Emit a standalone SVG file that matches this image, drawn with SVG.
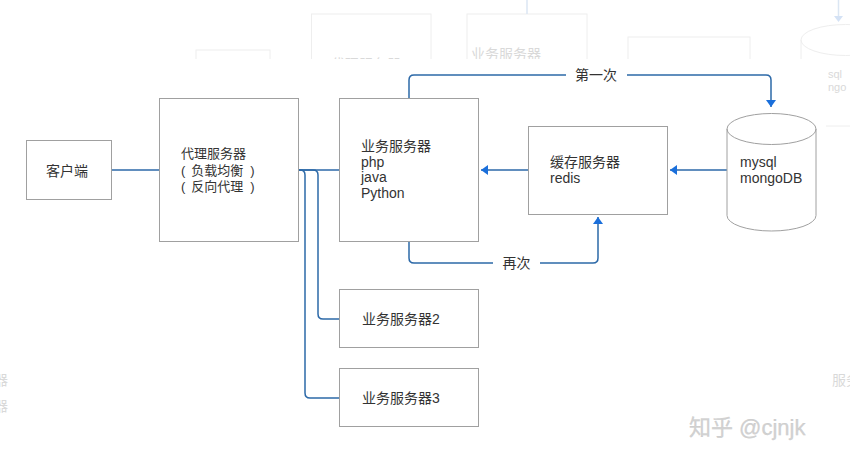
<svg xmlns="http://www.w3.org/2000/svg" width="850" height="466" viewBox="0 0 850 466">
<style>
text { font-family: "Liberation Sans", "Noto Sans CJK SC", sans-serif; font-size: 14px; fill: #333333; }
.box { fill: #ffffff; stroke: #a0a0a0; stroke-width: 1; }
.conn { fill: none; stroke: #2c69a8; stroke-width: 1.5; }
.ghost-box { fill: none; stroke: #eeeeee; stroke-width: 1; }
.ghost-text { fill: #d9d9d9; }
.ghost-small { font-size: 11px; }
.ghost-line { fill: none; stroke: #dbe6f3; stroke-width: 1.5; }
.lbl-bg { fill: #ffffff; }
.px { font-size: 13px; }
.wm { font-size: 22px; fill: #d2d2d2; stroke: #c4c4c4; stroke-width: 0.25; }
</style>
<defs>
<marker id="arr" markerUnits="userSpaceOnUse" markerWidth="10" markerHeight="12" refX="7" refY="5" orient="auto">
<path d="M0,0 L7,5 L0,10 z" fill="#1a6fdb"/>
</marker>
</defs>
<rect x="0" y="0" width="850" height="466" fill="#ffffff"/>
<g id="ghost">
<rect class="ghost-box" x="196" y="50" width="74" height="20"/>
<rect class="ghost-box" x="311.5" y="14" width="119.5" height="50"/>
<text class="ghost-text" x="331" y="69">代理服务器</text>
<rect class="ghost-box" x="467" y="14" width="120" height="50"/>
<text class="ghost-text" x="471" y="59">业务服务器</text>
<path class="ghost-line" d="M527,0 V14"/>
<rect class="ghost-box" x="628" y="37" width="122" height="30"/>
<path class="ghost-line" d="M838.5,0 V16"/>
<path d="M834,16 L843,16 L838.5,22 z" fill="#d4e2f5"/>
<path class="ghost-box" d="M801,40 A44.5,15.5 0 0 1 890,40 M801,40 A44.5,15.5 0 0 0 890,40 M801,40 V140"/>
<path class="ghost-box" d="M826,126 H850"/>
</g>
<rect x="9" y="59" width="817" height="407" fill="#ffffff"/>
<g id="ghost-text">
<text class="ghost-text ghost-small" x="828" y="78">sql</text>
<text class="ghost-text ghost-small" x="828" y="91">ngo</text>
<text class="ghost-text" x="-6" y="385">器</text>
<text class="ghost-text" x="-6" y="411">器</text>
<text class="ghost-text" x="832" y="385">服务</text>
</g>
<g id="connectors">
<path class="conn" d="M111,170 H159"/>
<path class="conn" d="M298,170 H339"/>
<path class="conn" d="M298,170 H300 Q305,170 305,175 V393 Q305,398 310,398 H339"/>
<path class="conn" d="M298,170 H313 Q318,170 318,175 V314 Q318,319 323,319 H339"/>
<path class="conn" d="M528,170 H481" marker-end="url(#arr)"/>
<path class="conn" d="M727,170 H670" marker-end="url(#arr)"/>
<path class="conn" d="M409,98 V80 Q409,75 414,75 H766 Q771,75 771,80 V107" marker-end="url(#arr)"/>
<path class="conn" d="M409,241 V258 Q409,263 414,263 H593 Q598,263 598,258 V217" marker-end="url(#arr)"/>
<rect class="lbl-bg" x="566" y="66" width="61" height="18"/>
<text x="596" y="80" text-anchor="middle">第一次</text>
<rect class="lbl-bg" x="493" y="254" width="47" height="18"/>
<text x="516.5" y="268" text-anchor="middle">再次</text>
</g>
<g id="client">
<rect class="box" x="26.5" y="140.5" width="85" height="59"/>
<text x="46" y="176">客户端</text>
</g>
<g id="proxy">
<rect class="box" x="159.5" y="98.5" width="139" height="143"/>
<text class="px" x="181" y="158">代理服务器</text>
<text class="px" x="181" y="175"><tspan>(</tspan><tspan dx="6">负载均衡</tspan><tspan dx="7">)</tspan></text>
<text class="px" x="181" y="191"><tspan>(</tspan><tspan dx="6">反向代理</tspan><tspan dx="7">)</tspan></text>
</g>
<g id="biz1">
<rect class="box" x="339.5" y="98.5" width="139" height="143"/>
<text x="361" y="151">业务服务器</text>
<text x="361" y="166.5">php</text>
<text x="361" y="182">java</text>
<text x="361" y="197.5">Python</text>
</g>
<g id="cache">
<rect class="box" x="528.5" y="126.5" width="139" height="88"/>
<text x="550" y="167">缓存服务器</text>
<text x="550" y="183">redis</text>
</g>
<g id="db">
<path class="box" d="M727,129 A44.5,15.5 0 0 1 816,129 V215.5 A44.5,15.5 0 0 1 727,215.5 Z"/>
<path class="box" style="fill:none" d="M727,129 A44.5,15.5 0 0 0 816,129"/>
<text x="740" y="167">mysql</text>
<text x="740" y="182.5">mongoDB</text>
</g>
<g id="biz2">
<rect class="box" x="339.5" y="289.5" width="139" height="58"/>
<text x="362" y="324">业务服务器2</text>
</g>
<g id="biz3">
<rect class="box" x="339.5" y="368.5" width="139" height="58"/>
<text x="362" y="403">业务服务器3</text>
</g>
<g id="watermark">
<text class="wm" x="689" y="435">知乎 @cjnjk</text>
</g>
</svg>
